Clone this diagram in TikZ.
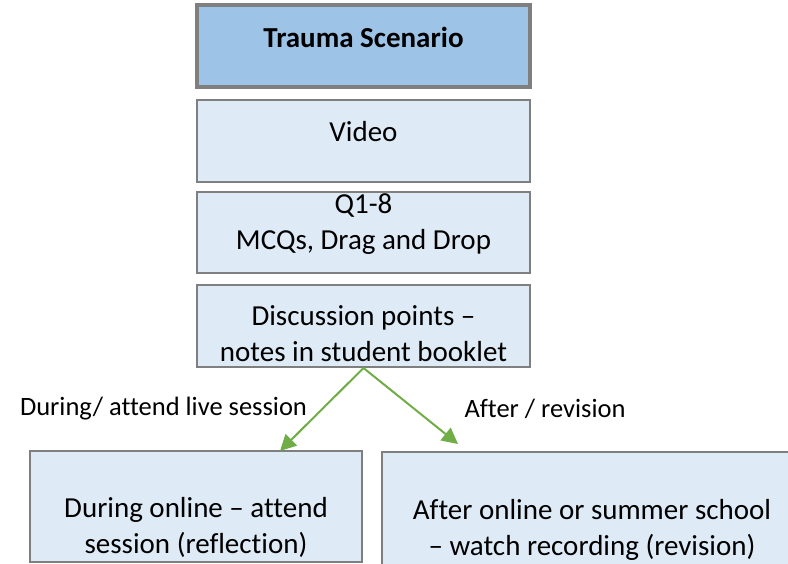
\documentclass[tikz,border=0pt]{standalone}
\usepackage{fontspec}
\setmainfont{Carlito}[Ligatures=NoCommon]
\usetikzlibrary{arrows.meta}
\definecolor{boxfill}{HTML}{DEEBF7}
\definecolor{topfill}{HTML}{9DC3E6}
\definecolor{boxline}{HTML}{7F7F7F}
\definecolor{arrowgreen}{HTML}{70AD47}
\begin{document}
\begin{tikzpicture}[x=1pt,y=-1pt,
  box/.style={draw=boxline,fill=boxfill,line width=2pt,inner sep=0pt},
  topbox/.style={box,fill=topfill,line width=4pt},
  txt/.style={inner sep=0pt,align=center,font=\fontsize{29}{36}\selectfont},
  edgetxt/.style={txt,font=\fontsize{26.5}{32}\selectfont},
  link/.style={draw=arrowgreen,line width=2pt,-{Triangle[length=16pt,width=16pt]}}]
  \clip (0,0) rectangle (788,564);
  \fill[white] (0,0) rectangle (788,564);
  \node[topbox,minimum width=333,minimum height=82] (trauma) at (363.5,46) {};
  \node[box,minimum width=333,minimum height=82] (video) at (363.5,141) {};
  \node[box,minimum width=333,minimum height=81] (quiz) at (363.5,232.5) {};
  \node[box,minimum width=333,minimum height=82] (discuss) at (363.5,326) {};
  \node[box,minimum width=332,minimum height=111] (during) at (196,506.5) {};
  \node[box,minimum width=420,minimum height=160] (after) at (592,532) {};

  \node[txt,font=\fontsize{29}{36}\selectfont\bfseries] (trauma-t) at (363.5,37) {Trauma Scenario};
  \node[txt] (video-t) at (363.5,132) {Video};
  \node[txt] (quiz-t) at (363.5,224) {Q1-8\\MCQs, Drag and Drop};
  \node[txt] (discuss-t) at (363.5,334) {Discussion points --\\notes in student booklet};
  \node[txt] (during-t) at (196,527) {During online -- attend\\session (reflection)};
  \node[txt] (after-t) at (592,530) {After online or summer school\\-- watch recording (revision)};

  \node[edgetxt] (during-l) at (163.5,409) {During/ attend live session};
  \node[edgetxt] (after-l) at (545,409) {After / revision};

  \draw[link] (discuss.south) -- (280,451);
  \draw[link] (discuss.south) -- (458,444);
\end{tikzpicture}
\end{document}
